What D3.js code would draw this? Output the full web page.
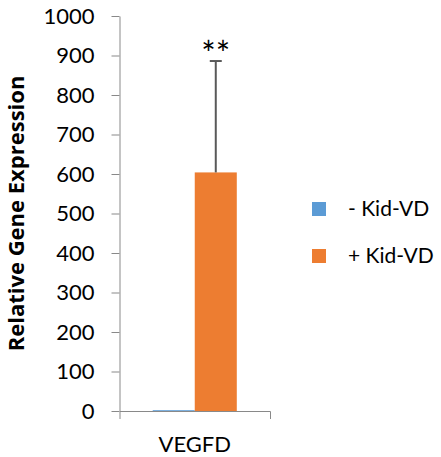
<!DOCTYPE html>
<html>
<head>
<meta charset="utf-8">
<script src="https://cdn.jsdelivr.net/npm/d3@7"></script>
<style>
    body { margin: 0; background: #fff; }
    text { font-family: Lato, "Open Sans", sans-serif; fill: #000; }
</style>
</head>
<body>
<div id="bars"></div>
<script>
// chart data
var categories = ["VEGFD"]
var series = ["- Kid-VD", "+ Kid-VD"]
var values = [2, 604]        // one value per series (VEGFD)
var errorsPlus = [0, 282]    // upper error bar per series
var significance = ["", "**"]
var yTicks = [0, 100, 200, 300, 400, 500, 600, 700, 800, 900, 1000]

var dimensions = {
    width: 441,
    height: 457,
    margin: {
        top: 16,
        bottom: 46,
        right: 171,
        left: 119.5
    }
}

var svg = d3.select("#bars")
    .append("svg")
    .attr("width", dimensions.width)
    .attr("height", dimensions.height)

var plotW = dimensions.width - dimensions.margin.left - dimensions.margin.right
var plotH = dimensions.height - dimensions.margin.top - dimensions.margin.bottom

var g = svg.append("g")
    .attr("transform", "translate(" + dimensions.margin.left + "," + dimensions.margin.top + ")")

var axisColor = "#898989"
var color = d3.scaleOrdinal()
    .domain(series)
    .range(["#5B9BD5", "#ED7D31"])

// Y axis
var y = d3.scaleLinear()
    .domain([0, 1000])
    .range([plotH, 0])

var yAxis = g.append("g")
    .call(d3.axisLeft(y).tickValues(yTicks).tickFormat(d3.format("d"))
        .tickSize(8).tickPadding(17).tickSizeOuter(0))
yAxis.select(".domain").attr("stroke", axisColor)
yAxis.selectAll(".tick line").attr("stroke", axisColor)
yAxis.selectAll("text")
    .attr("fill", "#000")
    .style("font-size", "22px")
    .style("font-family", "Lato, sans-serif")

// X axis
var x = d3.scaleBand()
    .domain(categories)
    .range([0, plotW])
    .padding(0)

var xAxis = g.append("g")
    .attr("transform", "translate(0," + plotH + ")")
    .call(d3.axisBottom(x).tickSize(0).tickPadding(25).tickSizeOuter(8))
xAxis.select(".domain").attr("stroke", axisColor)
xAxis.selectAll("text")
    .attr("fill", "#000")
    .style("font-size", "22px")
    .style("font-family", "Lato, sans-serif")

// series inside a category
var xSub = d3.scaleBand()
    .domain(series)
    .range([0, x.bandwidth()])
    .paddingInner(0)
    .paddingOuter(0.79)

var rows = series.map(function (s, i) {
    return { key: s, value: values[i], err: errorsPlus[i], sig: significance[i] }
})

var groups = g.append("g")
    .selectAll("g")
    .data(categories)
    .enter()
    .append("g")
    .attr("transform", function (d) { return "translate(" + x(d) + ",0)" })

groups.selectAll("rect")
    .data(rows)
    .enter().append("rect")
    .attr("x", function (d) { return xSub(d.key) })
    .attr("y", function (d) { return y(d.value) })
    .attr("width", xSub.bandwidth())
    .attr("height", function (d) { return plotH - y(d.value) })
    .attr("fill", function (d) { return color(d.key) })

// error bars (plus direction only)
var errs = groups.selectAll(".err")
    .data(rows.filter(function (d) { return d.err > 0 }))
    .enter().append("g")
    .attr("class", "err")
    .attr("transform", function (d) { return "translate(" + (xSub(d.key) + xSub.bandwidth() / 2) + ",0)" })

errs.append("line")
    .attr("x1", 0).attr("x2", 0)
    .attr("y1", function (d) { return y(d.value) })
    .attr("y2", function (d) { return y(d.value + d.err) })
    .attr("stroke", "#595959")
    .attr("stroke-width", 2)

errs.append("line")
    .attr("x1", -6).attr("x2", 6)
    .attr("y1", function (d) { return y(d.value + d.err) })
    .attr("y2", function (d) { return y(d.value + d.err) })
    .attr("stroke", "#595959")
    .attr("stroke-width", 2)

errs.append("text")
    .attr("x", 0)
    .attr("y", function (d) { return y(d.value + d.err) + 5 })
    .attr("text-anchor", "middle")
    .style("font-size", "34px")
    .style("font-family", "Lato, sans-serif")
    .text(function (d) { return d.sig })

// y title
svg.append("text")
    .attr("transform", "translate(24," + (dimensions.margin.top + plotH / 2) + ") rotate(-90)")
    .attr("text-anchor", "middle")
    .style("font-size", "22px")
    .style("font-weight", "bold")
    .style("font-family", "'Open Sans', sans-serif")
    .text("Relative Gene Expression")

// legend
var legend = svg.append("g")
    .attr("transform", "translate(312,202)")
    .selectAll("g")
    .data(series)
    .enter().append("g")
    .attr("transform", function (d, i) { return "translate(0," + (i * 47) + ")" })

legend.append("rect")
    .attr("width", 14)
    .attr("height", 14)
    .attr("fill", function (d) { return color(d) })

legend.append("text")
    .attr("x", 36)
    .attr("y", 7)
    .attr("dy", "0.35em")
    .style("font-size", "21px")
    .text(function (d) { return d })
</script>
</body>
</html>
